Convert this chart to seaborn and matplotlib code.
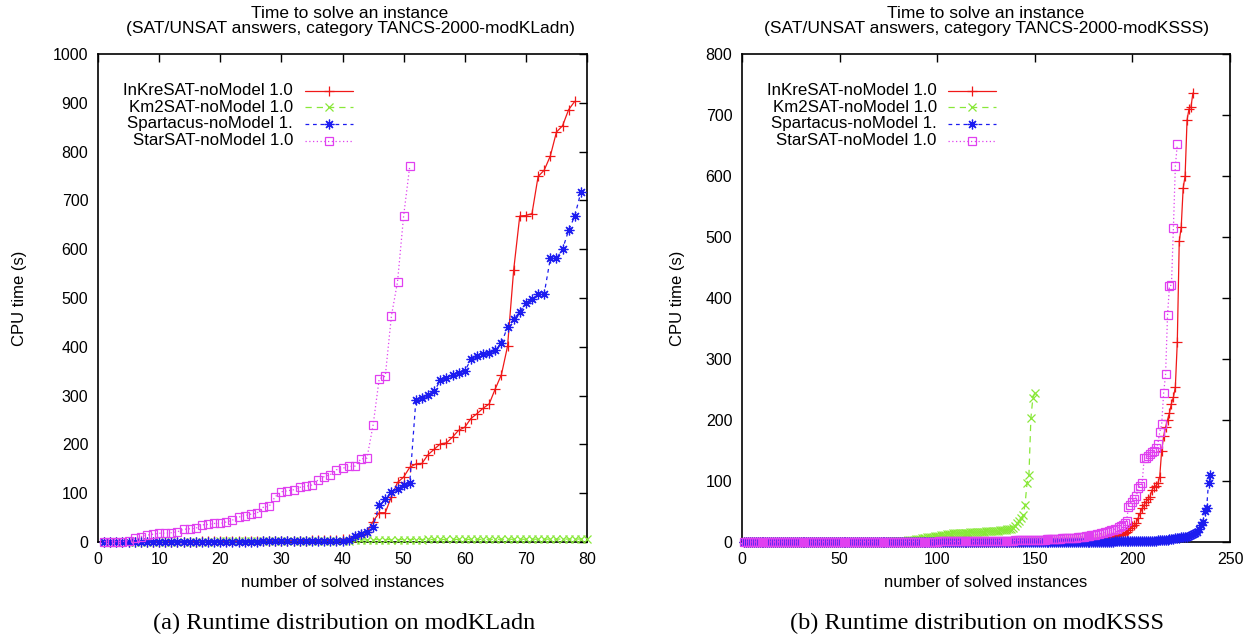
import matplotlib
matplotlib.use('Agg')
import matplotlib.pyplot as plt
import seaborn as sns
from matplotlib.lines import Line2D

sns.set_theme(style='white')
plt.rcParams['font.family'] = ['Liberation Sans', 'DejaVu Sans']

series_names = ["InKreSAT-noModel 1.0", "Km2SAT-noModel 1.0",
                "Spartacus-noModel 1.", "StarSAT-noModel 1.0"]
colors = ['#f01818', '#88e838', '#1c1cf0', '#e040f0']
markers = ['+', 'x', (8, 2, 0), 's']
linestyles = ['-', (0, (5, 4)), (0, (3, 3)), (0, (1, 2))]
msizes = [7, 6, 7, 6]

# ---------------- panel (a): modKLadn ----------------
red_a = [0.5, 0.5, 0.5, 0.5, 0.5, 0.6, 0.6, 0.6, 0.7, 0.7,
         0.8, 0.8, 0.9, 0.9, 1.0, 1.0, 1.1, 1.2, 1.3, 1.4,
         1.5, 1.6, 1.7, 1.8, 1.9, 2.0, 2.1, 2.2, 2.3, 2.4,
         2.5, 2.6, 2.8, 3.0, 3.2, 3.4, 3.6, 4.0, 4.5, 5.5,
         7, 10, 15, 21, 42, 60, 60, 93, 122, 133,
         153, 160, 161, 179, 190, 201, 203, 215, 229, 235,
         253, 263, 274, 283, 314, 343, 401, 557, 668, 669,
         673, 749, 762, 791, 840, 853, 886, 903]
green_a = [0.5, 0.5, 0.5, 0.5, 0.6, 0.6, 0.6, 0.7, 0.7, 0.7,
           0.8, 0.8, 0.8, 0.9, 0.9, 0.9, 1.0, 1.0, 1.0, 1.1,
           1.1, 1.2, 1.2, 1.3, 1.3, 1.4, 1.4, 1.5, 1.5, 1.6,
           1.6, 1.7, 1.8, 1.9, 2.0, 2.1, 2.2, 2.3, 2.5, 2.7,
           3.0, 3.5, 4.0, 4.5, 5.0, 5.0, 5.0, 5.0, 5.0, 5.0,
           5.1, 5.1, 5.1, 5.2, 5.2, 5.2, 5.3, 5.3, 5.3, 5.4,
           5.4, 5.4, 5.5, 5.5, 5.5, 5.6, 5.6, 5.6, 5.7, 5.7,
           5.7, 5.8, 5.8, 5.8, 5.9, 5.9, 6.0, 6.0, 6.1, 6.2]
blue_a = [0.3, 0.3, 0.3, 0.3, 0.3, 0.4, 0.4, 0.4, 0.4, 0.5,
          0.5, 0.5, 0.5, 0.6, 0.6, 0.6, 0.7, 0.7, 0.7, 0.8,
          0.8, 0.8, 0.9, 0.9, 1.0, 1.0, 1.1, 1.1, 1.2, 1.2,
          1.3, 1.4, 1.5, 1.6, 1.7, 1.8, 2.0, 2.2, 2.5, 3.0,
          4, 12, 16, 21, 31, 76, 88, 102, 109, 116,
          120, 290, 295, 302, 309, 331, 336, 342, 346, 350,
          374, 381, 386, 388, 393, 407, 441, 456, 472, 489,
          497, 509, 509, 581, 581, 600, 639, 668, 717]
magenta_a = [1, 1, 1, 1, 3, 8, 11, 14, 16, 18,
             18, 19, 21, 26, 27, 28, 35, 36, 38, 38,
             41, 45, 51, 54, 57, 59, 71, 73, 93, 103,
             105, 107, 112, 114, 117, 127, 134, 138, 148, 151,
             155, 155, 170, 172, 239, 334, 340, 463, 533, 668,
             770]

# ---------------- panel (b): modKSSS ----------------
red_b = [0.1, 0.1, 0.1, 0.1, 0.1, 0.1, 0.1, 0.1, 0.1, 0.1,
         0.1, 0.1, 0.1, 0.1, 0.1, 0.1, 0.1, 0.1, 0.1, 0.1,
         0.1, 0.1, 0.1, 0.1, 0.1, 0.1, 0.1, 0.1, 0.1, 0.1,
         0.2, 0.2, 0.2, 0.2, 0.2, 0.2, 0.2, 0.2, 0.2, 0.2,
         0.2, 0.2, 0.2, 0.2, 0.2, 0.2, 0.2, 0.2, 0.2, 0.2,
         0.2, 0.2, 0.2, 0.2, 0.2, 0.2, 0.2, 0.2, 0.2, 0.2,
         0.3, 0.3, 0.3, 0.3, 0.3, 0.3, 0.3, 0.3, 0.3, 0.3,
         0.3, 0.3, 0.3, 0.3, 0.3, 0.3, 0.3, 0.3, 0.3, 0.3,
         0.3, 0.3, 0.3, 0.3, 0.3, 0.3, 0.3, 0.3, 0.3, 0.3,
         0.4, 0.4, 0.4, 0.4, 0.4, 0.4, 0.4, 0.4, 0.4, 0.4,
         0.4, 0.4, 0.4, 0.4, 0.4, 0.4, 0.4, 0.4, 0.4, 0.4,
         0.5, 0.5, 0.5, 0.5, 0.5, 0.5, 0.5, 0.5, 0.5, 0.5,
         0.5, 0.5, 0.5, 0.5, 0.5, 0.5, 0.5, 0.5, 0.5, 0.5,
         0.6, 0.6, 0.6, 0.6, 0.6, 0.6, 0.6, 0.6, 0.6, 0.6,
         0.7, 0.7, 0.8, 0.8, 0.9, 0.9, 1.0, 1.0, 1.1, 1.1,
         1.2, 1.2, 1.3, 1.4, 1.5, 1.6, 1.7, 1.8, 1.9, 2.0,
         2.1, 2.2, 2.3, 2.4, 2.5, 2.6, 2.7, 2.8, 2.9, 3.0,
         3.2, 3.4, 3.6, 3.8, 4.0, 4.2, 4.4, 4.6, 4.8, 5.0,
         5.3, 5.6, 6.0, 6.4, 6.8, 7.2, 7.6, 8.0, 8.5, 9.0,
         9.5, 10, 11, 12, 13, 15, 17, 20, 23,
         26, 28, 31, 40, 47, 55, 61, 66, 70, 74,
         85, 90, 92, 96, 107,
         150, 173, 188, 200, 212, 227, 237, 254, 328, 493,
         516, 580, 600, 692, 710, 713, 736]
green_b = [0.2, 0.2, 0.2, 0.2, 0.2, 0.2, 0.2, 0.2, 0.2, 0.2,
           0.2, 0.2, 0.2, 0.2, 0.2, 0.2, 0.2, 0.2, 0.2, 0.2,
           0.3, 0.3, 0.3, 0.3, 0.3, 0.3, 0.3, 0.3, 0.3, 0.3,
           0.3, 0.3, 0.3, 0.3, 0.3, 0.3, 0.3, 0.3, 0.3, 0.3,
           0.4, 0.4, 0.4, 0.4, 0.4, 0.4, 0.4, 0.4, 0.4, 0.4,
           0.5, 0.5, 0.5, 0.5, 0.5, 0.5, 0.5, 0.5, 0.5, 0.5,
           0.6, 0.6, 0.6, 0.6, 0.6, 0.7, 0.7, 0.7, 0.7, 0.7,
           0.8, 0.8, 0.8, 0.8, 0.8, 0.9, 0.9, 0.9, 0.9, 0.9,
           1.0, 1.2, 1.5, 2.0, 2.5, 3.0, 3.5, 4.0, 4.5, 5.0,
           5.5, 6.0, 6.5, 7.0, 7.5, 8.0, 8.5, 9.0, 9.5, 10,
           10.5, 11, 11.5, 12, 12.5, 13, 13.5, 14, 14, 14.5,
           14.5, 15, 15, 15, 15.5, 15.5, 16, 16, 16, 16.5,
           16.5, 17, 17, 17, 17.5, 17.5, 18, 18, 18, 18.5,
           18.5, 19, 19, 19.5, 20, 20.5, 21, 22, 23, 26,
           31, 35, 39, 44, 61, 96, 110, 203, 236, 245]
blue_b = [0.1, 0.1, 0.1, 0.1, 0.1, 0.1, 0.1, 0.1, 0.1, 0.1,
          0.1, 0.1, 0.1, 0.1, 0.1, 0.1, 0.1, 0.1, 0.1, 0.1,
          0.1, 0.1, 0.1, 0.1, 0.1, 0.1, 0.1, 0.1, 0.1, 0.1,
          0.1, 0.1, 0.1, 0.1, 0.1, 0.1, 0.1, 0.1, 0.1, 0.1,
          0.1, 0.1, 0.1, 0.1, 0.1, 0.1, 0.1, 0.1, 0.1, 0.1,
          0.1, 0.1, 0.1, 0.1, 0.1, 0.1, 0.1, 0.1, 0.1, 0.1,
          0.1, 0.1, 0.1, 0.1, 0.1, 0.1, 0.1, 0.1, 0.1, 0.1,
          0.2, 0.2, 0.2, 0.2, 0.2, 0.2, 0.2, 0.2, 0.2, 0.2,
          0.2, 0.2, 0.2, 0.2, 0.2, 0.2, 0.2, 0.2, 0.2, 0.2,
          0.2, 0.2, 0.2, 0.2, 0.2, 0.2, 0.2, 0.2, 0.2, 0.2,
          0.2, 0.2, 0.2, 0.2, 0.2, 0.2, 0.2, 0.2, 0.2, 0.2,
          0.3, 0.3, 0.3, 0.3, 0.3, 0.3, 0.3, 0.3, 0.3, 0.3,
          0.3, 0.3, 0.3, 0.3, 0.3, 0.3, 0.3, 0.3, 0.3, 0.3,
          0.3, 0.3, 0.3, 0.3, 0.3, 0.3, 0.3, 0.3, 0.3, 0.3,
          0.4, 0.4, 0.4, 0.4, 0.4, 0.4, 0.4, 0.4, 0.4, 0.4,
          0.5, 0.5, 0.5, 0.5, 0.5, 0.5, 0.5, 0.5, 0.5, 0.5,
          0.5, 0.5, 0.5, 0.5, 0.5, 0.5, 0.5, 0.5, 0.5, 0.5,
          0.6, 0.6, 0.6, 0.6, 0.6, 0.6, 0.6, 0.6, 0.6, 0.6,
          0.7, 0.7, 0.7, 0.7, 0.7, 0.8, 0.8, 0.8, 0.8, 0.8,
          0.9, 0.9, 0.9, 0.9, 0.9, 1.0, 1.0, 1.0, 1.0, 1.0,
          1.1, 1.2, 1.3, 1.4, 1.5, 1.6, 1.7, 1.8, 1.9, 2.0,
          2.2, 2.4, 2.6, 2.8, 3.0, 3.3, 3.6, 4.0, 4.5, 5.0,
          5.5, 6.0, 6.5, 7.0, 7.5, 8.0, 8.5, 9.0, 10, 11,
          13, 15, 17, 22, 28, 33, 51, 55, 97, 110]
magenta_b = [0.2, 0.2, 0.2, 0.2, 0.2, 0.2, 0.2, 0.2, 0.2, 0.2,
             0.2, 0.2, 0.2, 0.2, 0.2, 0.2, 0.2, 0.2, 0.2, 0.2,
             0.3, 0.3, 0.3, 0.3, 0.3, 0.3, 0.3, 0.3, 0.3, 0.3,
             0.3, 0.3, 0.3, 0.3, 0.3, 0.3, 0.3, 0.3, 0.3, 0.3,
             0.4, 0.4, 0.4, 0.4, 0.4, 0.4, 0.4, 0.4, 0.4, 0.4,
             0.4, 0.4, 0.4, 0.4, 0.4, 0.4, 0.4, 0.4, 0.4, 0.4,
             0.5, 0.5, 0.5, 0.5, 0.5, 0.5, 0.5, 0.5, 0.5, 0.5,
             0.6, 0.6, 0.6, 0.6, 0.6, 0.6, 0.6, 0.6, 0.6, 0.6,
             0.7, 0.7, 0.7, 0.7, 0.7, 0.7, 0.7, 0.7, 0.7, 0.7,
             0.8, 0.8, 0.8, 0.8, 0.8, 0.8, 0.8, 0.8, 0.8, 0.8,
             0.9, 0.9, 0.9, 0.9, 0.9, 0.9, 0.9, 0.9, 0.9, 0.9,
             1.0, 1.0, 1.0, 1.0, 1.0, 1.0, 1.0, 1.0, 1.0, 1.0,
             1.1, 1.1, 1.2, 1.2, 1.3, 1.3, 1.4, 1.4, 1.5, 1.5,
             1.6, 1.7, 1.8, 1.9, 2.0, 2.1, 2.2, 2.3, 2.4, 2.5,
             2.6, 2.7, 2.8, 2.9, 3.0, 3.1, 3.2, 3.3, 3.4, 3.5,
             3.6, 3.7, 3.8, 3.9, 4.0, 4.2, 4.4, 4.6, 4.8, 5.0,
             5.2, 5.4, 5.6, 5.8, 6.0, 6.2, 6.4, 6.6, 6.8, 7.0,
             7.3, 7.6, 8.0, 8.5, 9.0, 9.5, 10, 10.5, 11, 11.5,
             12, 12.5, 13, 14, 15, 16, 17, 18, 19, 20,
             21, 22, 24, 26, 28, 31, 34, 58, 61, 66,
             70, 75, 89, 92, 96, 137, 138, 141, 145, 147,
             150, 154, 160, 180, 193, 244, 275, 372, 420, 421,
             514, 616, 652]

panels = [
    dict(series=[red_a, green_a, blue_a, magenta_a],
         xlim=(0, 80), xticks=list(range(0, 81, 10)),
         ylim=(0, 1000), yticks=list(range(0, 1001, 100)),
         title="Time to solve an instance\n(SAT/UNSAT answers, category TANCS-2000-modKLadn)",
         caption="(a) Runtime distribution on modKLadn",
         rect=[98 / 1259, 1 - 542 / 639, 489 / 1259, 488 / 639],
         ylab_x=-0.16, title_x=350 / 1259, cap_x=344 / 1259),
    dict(series=[red_b, green_b, blue_b, magenta_b],
         xlim=(0, 250), xticks=list(range(0, 251, 50)),
         ylim=(0, 800), yticks=list(range(0, 801, 100)),
         title="Time to solve an instance\n(SAT/UNSAT answers, category TANCS-2000-modKSSS)",
         caption="(b) Runtime distribution on modKSSS",
         rect=[742 / 1259, 1 - 542 / 639, 488 / 1259, 488 / 639],
         ylab_x=-0.133, title_x=986 / 1259, cap_x=977 / 1259),
]

fig = plt.figure(figsize=(12.59, 6.39), dpi=100)
fig.patch.set_facecolor('white')

for p in panels:
    ax = fig.add_axes(p['rect'])
    ax.set_facecolor('white')
    for vals, c, m, ls, ms in zip(p['series'], colors, markers, linestyles, msizes):
        xs = list(range(1, len(vals) + 1))
        sns.lineplot(x=xs, y=vals, ax=ax, color=c, marker=m, linestyle=ls,
                     linewidth=0.9, markersize=ms, markerfacecolor='none',
                     markeredgecolor=c, markeredgewidth=0.9, sort=False,
                     errorbar=None, legend=False, clip_on=False)
    ax.set_xlim(*p['xlim'])
    ax.set_ylim(*p['ylim'])
    ax.set_xticks(p['xticks'])
    ax.set_yticks(p['yticks'])
    ax.tick_params(direction='in', length=6, width=1, top=True, right=True,
                   labelsize=11.5, colors='black', pad=7)
    for s in ax.spines.values():
        s.set_color('black')
        s.set_linewidth(1.2)
        s.set_zorder(1)
    ax.set_xlabel("number of solved instances", fontsize=12, color='black')
    ax.set_ylabel("CPU time (s)", fontsize=12, color='black')
    ax.xaxis.set_label_coords(0.5, -0.082)
    ax.xaxis.label.set_va('center')
    ax.yaxis.set_label_coords(p['ylab_x'], 0.5)
    ax.yaxis.label.set_va('center')

    # legend (gnuplot style: right-aligned text, sample to the right)
    ys = [0.925, 0.891, 0.857, 0.822]
    for name, c, m, ls, ms, yy in zip(series_names, colors, markers, linestyles, msizes, ys):
        ax.text(0.399, yy, name, transform=ax.transAxes, ha='right', va='center',
                fontsize=12.2, color='black')
        ax.add_line(Line2D([0.423, 0.521], [yy, yy], transform=ax.transAxes,
                           color=c, linestyle=ls, linewidth=0.9))
        ax.add_line(Line2D([0.472], [yy], transform=ax.transAxes, color=c,
                           marker=m, markersize=ms, markerfacecolor='none',
                           markeredgecolor=c, markeredgewidth=0.9, linestyle='none'))

    fig.text(p['title_x'], 1 - 21 / 639, p['title'], ha='center', va='center',
             fontsize=12.5, color='black', linespacing=1.0)
    fig.text(p['cap_x'], 1 - 623 / 639, p['caption'], ha='center', va='center',
             fontsize=17.5, color='black', family=['Liberation Serif', 'DejaVu Serif'])

fig.savefig('out.png', dpi=100, facecolor='white')
